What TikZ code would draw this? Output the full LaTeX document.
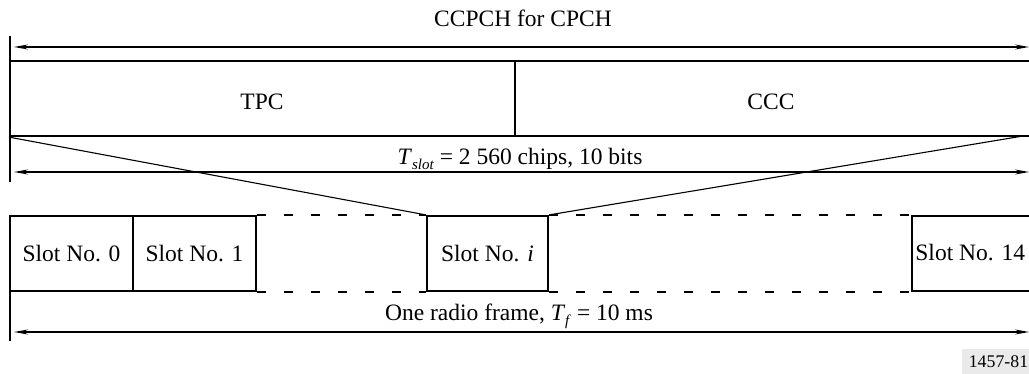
\documentclass[tikz,border=0pt]{standalone}
\usepackage{fontspec}
\setmainfont{Liberation Serif}
\usetikzlibrary{arrows.meta}
\definecolor{labelgray}{RGB}{234,234,234}
\begin{document}
\begin{tikzpicture}[x=0.5pt,y=-0.5pt,
  boxline/.style={line width=1.1pt},
  thinline/.style={line width=0.55pt},
  dimarrow/.style={line width=0.7pt,{Stealth[length=7pt,width=2.5pt]}-{Stealth[length=7pt,width=2.5pt]}},
  txt/.style={font=\fontsize{11.75}{14}\selectfont, anchor=base, inner sep=0pt},
  field/.style={draw, boxline, rectangle, inner sep=0pt, minimum height=37.5pt},
  slotbox/.style={draw, boxline, rectangle, inner sep=0pt, minimum height=37.5pt, font=\fontsize{11.75}{14}\selectfont},
  dashline/.style={line width=1.1pt, dash pattern=on 4.3pt off 9.2pt}]
\useasboundingbox (0,0) rectangle (1029,374);
\clip (0,0) rectangle (1029,374);
% title
\node[txt] (title) at (523,27) {CCPCH for CPCH};
% left ticks
\coordinate (tickA1) at (10,36);
\coordinate (tickA2) at (10,182);
\coordinate (tickB1) at (10,291);
\coordinate (tickB2) at (10,341);
\draw[thinline] (tickA1) -- (tickA2);
\draw[thinline] (tickB1) -- (tickB2);
% top arrow
\coordinate (arrAl) at (14,47);
\coordinate (arrAr) at (1029,47);
\draw[dimarrow] (arrAl) -- (arrAr);
% fields
\node[field, minimum width=252.5pt] (tpc) at (262.5,98.5) {};
\node[field, minimum width=258pt] (ccc) at (773,98.5) {};
\node[txt] (tpctxt) at (262,110) {TPC};
\node[txt] (ccctxt) at (771,110) {CCC};
% Tslot arrow
\coordinate (arrBl) at (14,172);
\coordinate (arrBr) at (1029,172);
\draw[dimarrow] (arrBl) -- (arrBr);
\node[txt] (tslot) at (520,165) {\textit{T}\raisebox{-0.45ex}{\fontsize{7.5}{8}\selectfont\textit{slot}} = 2 560 chips, 10 bits};
% slots
\node[slotbox, minimum width=61.5pt] (s0) at (71.5,253.5) {Slot No. 0};
\node[slotbox, minimum width=61.5pt] (s1) at (194.5,253.5) {Slot No. 1};
\node[slotbox, minimum width=60.5pt] (si) at (487.5,253.5) {Slot No. \textit{i}};
\node[slotbox, minimum width=62pt] (s14) at (974,253.5) {};
\node[txt, anchor=base west] (s14txt) at (915,261) {Slot No. 14};
% diagonals
\coordinate (diagR) at (1023,136);
\draw[thinline] (tpc.south west) -- (si.north west);
\draw[thinline] (diagR) -- (si.north east);
% dashed continuation
\draw[dashline] (s1.north east) -- (si.north west);
\draw[dashline] (s1.south east) -- (si.south west);
\draw[dashline] (si.north east) -- (s14.north west);
\draw[dashline] (si.south east) -- (s14.south west);
% frame arrow
\coordinate (arrCl) at (14,332);
\coordinate (arrCr) at (1029,332);
\draw[dimarrow] (arrCl) -- (arrCr);
\node[txt] (frame) at (519,321) {One radio frame, \textit{T}\raisebox{-0.45ex}{\fontsize{7.5}{8}\selectfont\textit{f}} = 10 ms};
% figure label
\fill[labelgray] (962,349) rectangle (1035,376);
\node[txt, font=\fontsize{8.9}{10}\selectfont] (figlabel) at (998.5,367) {1457-81};
\end{tikzpicture}
\end{document}
